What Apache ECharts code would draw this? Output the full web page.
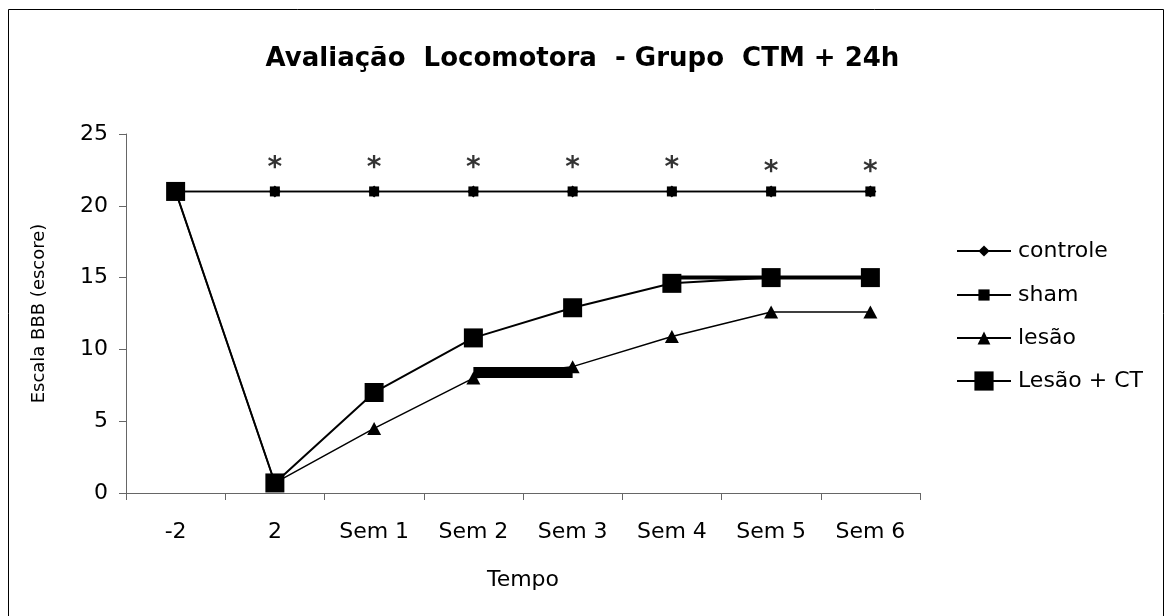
<!DOCTYPE html>
<html>
<head>
<meta charset="utf-8">
<script src="https://cdn.jsdelivr.net/npm/echarts@6/dist/echarts.min.js"></script>
<style>html,body{margin:0;padding:0;background:#fff}#c{width:1165px;height:616px}</style>
</head>
<body>
<div id="c"></div>
<script>
const categories = ['-2', '2', 'Sem 1', 'Sem 2', 'Sem 3', 'Sem 4', 'Sem 5', 'Sem 6'];
const controle = [21, 21, 21, 21, 21, 21, 21, 21];
const sham = [21, 21, 21, 21, 21, 21, 21, 21];
const lesao = [21, 0.7, 4.5, 8.0, 8.8, 10.9, 12.6, 12.6];
const lesaoCT = [21, 0.7, 7.0, 10.8, 12.9, 14.6, 15.0, 15.0];
const lesaoDestaque = [null, null, null, 8.4, 8.4, null, null, null];
const lesaoCTDestaque = [null, null, null, null, null, 15.0, 15.0, 15.0];
const asteriscos = [null, 22.6, 22.6, 22.6, 22.6, 22.6, 22.3, 22.3];
const yTicks = [0, 5, 10, 15, 20, 25];

const FONT = 'DejaVu Sans';
const chart = echarts.init(document.getElementById('c'), null, {renderer: 'canvas'});

function legendFor(name, top, h) {
  return {
    data: [name], orient: 'vertical', left: 956, top: top, padding: 0,
    itemWidth: 54, itemHeight: h, itemGap: 0,
    textStyle: {fontFamily: FONT, fontSize: 22, color: '#000', padding: [0, 0, 0, 2]},
    selectedMode: false
  };
}

chart.setOption({
  backgroundColor: '#fff',
  animation: false,
  title: {
    text: 'Avaliação  Locomotora  - Grupo  CTM + 24h',
    left: 'center', top: 41,
    textStyle: {fontFamily: FONT, fontSize: 26, fontWeight: 'bold', color: '#000'}
  },
  graphic: [{
    type: 'rect', shape: {x: 8.5, y: 9.5, width: 1155, height: 620},
    style: {fill: 'none', stroke: '#000', lineWidth: 1}, silent: true, z: -1
  }],
  legend: [
    legendFor('controle', 240, 14),
    legendFor('sham', 284, 14),
    legendFor('lesão', 327, 16),
    legendFor('Lesão + CT', 370, 24)
  ],
  grid: {left: 126, top: 134, width: 794, height: 359, containLabel: false},
  xAxis: {
    type: 'category', data: categories, boundaryGap: true,
    name: 'Tempo', nameLocation: 'middle', nameGap: 76,
    nameTextStyle: {fontFamily: FONT, fontSize: 22, color: '#000'},
    axisLine: {lineStyle: {color: '#666', width: 1}},
    axisTick: {show: true, length: 7, inside: false, lineStyle: {color: '#666'}},
    axisLabel: {fontFamily: FONT, fontSize: 22, color: '#000', margin: 28}
  },
  yAxis: {
    type: 'value', min: 0, max: 25, interval: 5,
    name: 'Escala BBB (escore)', nameLocation: 'middle', nameGap: 78,
    nameTextStyle: {fontFamily: FONT, fontSize: 18, color: '#000'},
    splitLine: {show: false},
    axisLine: {show: true, lineStyle: {color: '#666', width: 1}},
    axisTick: {show: true, length: 7, lineStyle: {color: '#666'}},
    axisLabel: {fontFamily: FONT, fontSize: 22, color: '#000', margin: 18,
      formatter: v => yTicks.includes(v) ? String(v) : ''}
  },
  series: [
    {name: 'controle', type: 'line', data: controle, symbol: 'diamond', symbolSize: 12,
      lineStyle: {color: '#000', width: 1.5}, itemStyle: {color: '#000'}, z: 2},
    {name: 'sham', type: 'line', data: sham, symbol: 'rect', symbolSize: 10,
      lineStyle: {color: '#000', width: 1.5}, itemStyle: {color: '#000'}, z: 3},
    {name: 'lesão', type: 'line', data: lesao, symbol: 'triangle', symbolSize: [14, 13],
      lineStyle: {color: '#000', width: 1.5}, itemStyle: {color: '#000'}, z: 4},
    {name: 'lesaoDestaque', type: 'line', data: lesaoDestaque, symbol: 'none',
      lineStyle: {color: '#000', width: 11, cap: 'butt'}, z: 4, silent: true},
    {name: 'Lesão + CT', type: 'line', data: lesaoCT, symbol: 'rect', symbolSize: 19,
      lineStyle: {color: '#000', width: 2}, itemStyle: {color: '#000'}, z: 5},
    {name: 'lesaoCTDestaque', type: 'line', data: lesaoCTDestaque, symbol: 'none',
      lineStyle: {color: '#000', width: 4, cap: 'butt'}, z: 5, silent: true},
    {name: 'asteriscos', type: 'scatter', data: asteriscos, symbolSize: 1,
      itemStyle: {color: 'rgba(0,0,0,0)'},
      label: {show: true, position: 'inside', formatter: '*',
        fontFamily: FONT, fontSize: 28, fontWeight: 'bold', color: '#000'}, z: 6}
  ]
});
</script>
</body>
</html>
